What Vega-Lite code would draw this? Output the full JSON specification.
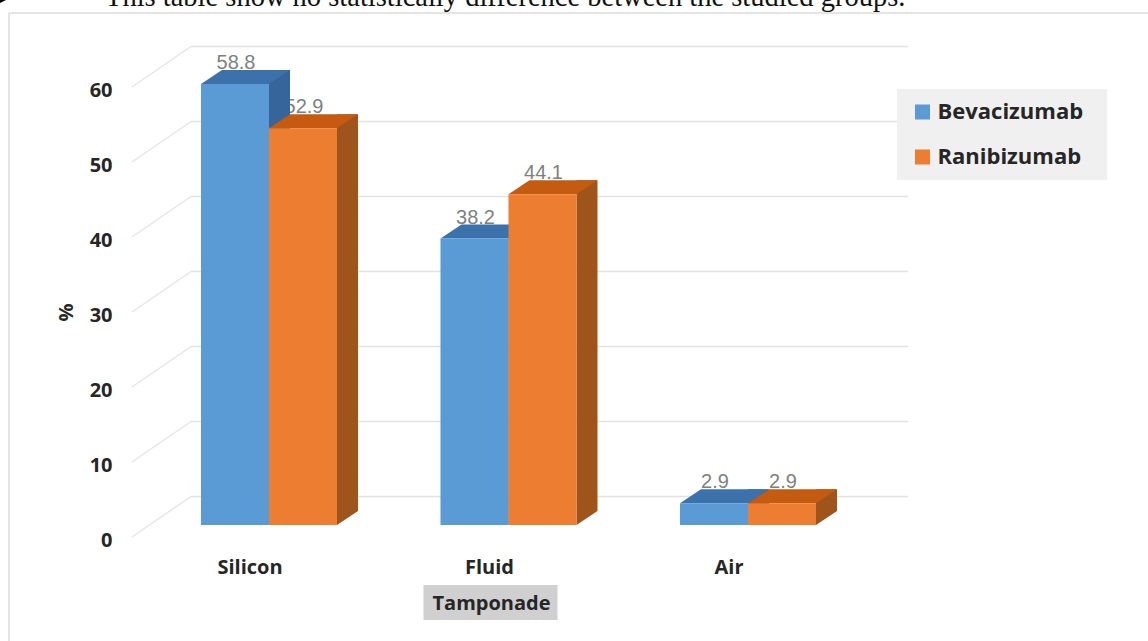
{
"$schema":"https://vega.github.io/schema/vega-lite/v6.json",
"width":1148,"height":641,"padding":0,"autosize":{"type":"none"},
"background":"white",
"view":{"stroke":null},
"config":{"axis":{"labelFont":"Open Sans","titleFont":"Open Sans"},"legend":{"labelFont":"Open Sans"}},
"datasets":{
"bars":[
{"tamponade":"Silicon","group":"Bevacizumab","value":58.8},
{"tamponade":"Silicon","group":"Ranibizumab","value":52.9},
{"tamponade":"Fluid","group":"Bevacizumab","value":38.2},
{"tamponade":"Fluid","group":"Ranibizumab","value":44.1},
{"tamponade":"Air","group":"Bevacizumab","value":2.9},
{"tamponade":"Air","group":"Ranibizumab","value":2.9}],
"ticks":[{"v":0},{"v":10},{"v":20},{"v":30},{"v":40},{"v":50},{"v":60}]
},
"encoding":{
"x":{"field":"tamponade","type":"nominal","scale":{"domain":["Silicon","Fluid","Air"],"range":[149.25,867.75],"paddingInner":0.432,"paddingOuter":0.216},
"axis":{"title":"Tamponade","titleFontSize":20,"titleFontWeight":"bold","titleColor":"#262626","titleX":491,"titleY":68,"labelFontSize":20,"labelFontWeight":"bold","labelColor":"#262626","labelAngle":0,"labelOffset":-19,"labelPadding":32,"ticks":false,"domain":false,"offset":-116,"zindex":1}},
"y":{"field":"value","type":"quantitative","scale":{"domain":[0,60],"range":[525,75],"nice":false},
"axis":{"title":"%","values":[0,10,20,30,40,50,60],"titleFontSize":20,"titleFontWeight":"bold","titleColor":"#262626","titleX":-40,"titleY":312,"labelFontSize":20,"labelFontWeight":"bold","labelColor":"#262626","labelOffset":15,"labelPadding":4,"ticks":false,"domain":false,"grid":false,"offset":-116}},
"xOffset":{"field":"group","type":"nominal","scale":{"domain":["Bevacizumab","Ranibizumab"],"paddingInner":0}}
},
"layer":[
{"data":{"values":[{"tamponade":"Silicon","v":69.2,"note":"This table show no statistically difference between the studied groups."}]},"mark":{"type":"text","align":"left","baseline":"alphabetic","dx":-164,"font":"Liberation Serif","fontSize":28.5,"color":"#111111"},
 "encoding":{"xOffset":null,"y":{"field":"v","type":"quantitative"},"text":{"field":"note"}}},
{"data":{"values":[{"v":68.27}]},"mark":{"type":"rule","color":"#DCDCDC","strokeWidth":1.5,"xOffset":-260,"x2Offset":400},
 "encoding":{"xOffset":null,"x":{"datum":"Silicon","type":"nominal"},"x2":{"datum":"Air"},"y":{"field":"v","type":"quantitative"}}},
{"data":{"values":[{"v":68.27,"w":-20}]},"mark":{"type":"rule","color":"#DCDCDC","strokeWidth":1.5,"xOffset":-260},
 "encoding":{"xOffset":null,"x":{"datum":"Silicon","type":"nominal"},"y":{"field":"v","type":"quantitative"},"y2":{"field":"w"}}},
{"data":{"name":"ticks"},"mark":{"type":"rule","color":"#E2E2E2","strokeWidth":1.5,"xOffset":-78,"x2Offset":160,"yOffset":-28.5},
 "encoding":{"xOffset":null,"x":{"datum":"Silicon","type":"nominal"},"x2":{"datum":"Air"},"y":{"field":"v","type":"quantitative"}}},
{"data":{"name":"ticks"},"mark":{"type":"rule","color":"#E6E6E6","strokeWidth":1.5,"xOffset":-137,"x2Offset":-78,"yOffset":12,"y2Offset":-28.5},
 "encoding":{"xOffset":null,"x":{"datum":"Silicon","type":"nominal"},"x2":{"datum":"Silicon"},"y":{"field":"v","type":"quantitative"},"y2":{"field":"v"}}},
{"data":{"values":[{"tamponade":"Fluid","v":0}]},"mark":{"type":"point","filled":true,"opacity":1,"size":4,"color":"#D0D0D0","shape":"M-85,60 L49,60 L49,95 L-85,95 Z"},
 "encoding":{"xOffset":null,"y":{"field":"v","type":"quantitative"}}},
{"data":{"values":[{"tamponade":"Air","v":0}]},"mark":{"type":"point","filled":true,"opacity":1,"size":4,"color":"#F0F0F0","shape":"M149,-436 L359,-436 L359,-345 L149,-345 Z"},
 "encoding":{"xOffset":null,"y":{"field":"v","type":"quantitative"}}},
{"data":{"values":[{"tamponade":"Silicon","v":70}]},"mark":{"type":"point","filled":true,"opacity":1,"size":4,"color":"#000000","shape":"M-269,0 L-263,0 L-269,3 Z"},
 "encoding":{"xOffset":null,"y":{"field":"v","type":"quantitative"}}},
{"data":{"name":"bars"},"transform":[{"filter":"datum.group==='Ranibizumab'"}],"mark":{"type":"text","font":"Liberation Sans","fontSize":20,"color":"#7F7F7F","yOffset":-21,"dx":1},"encoding":{"text":{"field":"value","format":".1f"}}},
{"data":{"name":"bars"},"transform":[{"filter":"datum.group==='Bevacizumab'"}],"mark":{"type":"rule","color":"#35659B","strokeWidth":21,"xOffset":10.5,"yOffset":-14,"y2Offset":-14},"encoding":{"xOffset":null,"y2":{"datum":0}}},
{"data":{"name":"bars"},"transform":[{"filter":"datum.group==='Bevacizumab'"}],"mark":{"type":"point","filled":true,"opacity":1,"size":4,"color":"#3B72AB","shape":"M-34,0 L34,0 L55,-14 L-13,-14 Z"}},
{"data":{"name":"bars"},"transform":[{"filter":"datum.group==='Bevacizumab'"}],"mark":{"type":"point","filled":true,"opacity":1,"size":4,"color":"#35659B","shape":"M34,0 L55,-14 L34,-14 Z"},"encoding":{"y":{"datum":0,"type":"quantitative"}}},
{"data":{"name":"bars"},"transform":[{"filter":"datum.group==='Bevacizumab'"}],"mark":{"type":"text","font":"Liberation Sans","fontSize":20,"color":"#7F7F7F","yOffset":-21,"dx":1},"encoding":{"text":{"field":"value","format":".1f"}}},
{"data":{"name":"bars"},"transform":[{"filter":"datum.group==='Ranibizumab'"}],"mark":{"type":"rule","color":"#9E541B","strokeWidth":21,"xOffset":78.5,"yOffset":-14,"y2Offset":-14},"encoding":{"xOffset":null,"y2":{"datum":0}}},
{"data":{"name":"bars"},"transform":[{"filter":"datum.group==='Ranibizumab'"}],"mark":{"type":"point","filled":true,"opacity":1,"size":4,"color":"#C55A11","shape":"M-34,0 L34,0 L55,-14 L-13,-14 Z"}},
{"data":{"name":"bars"},"transform":[{"filter":"datum.group==='Ranibizumab'"}],"mark":{"type":"point","filled":true,"opacity":1,"size":4,"color":"#9E541B","shape":"M34,0 L55,-14 L34,-14 Z"},"encoding":{"y":{"datum":0,"type":"quantitative"}}},
{"data":{"name":"bars"},"mark":{"type":"bar"},
 "encoding":{"y2":{"datum":0},"color":{"field":"group","type":"nominal","scale":{"domain":["Bevacizumab","Ranibizumab"],"range":["#5B9BD5","#ED7D31"]},
 "legend":{"orient":"none","legendX":899.5,"legendY":89,"title":null,"fillColor":"#F0F0F0","padding":12,"symbolType":"square","symbolSize":225,"symbolOpacity":1,"labelFontSize":22,"labelFontWeight":"bold","labelColor":"#262626","labelOffset":4,"rowPadding":23}}}}
]
}
